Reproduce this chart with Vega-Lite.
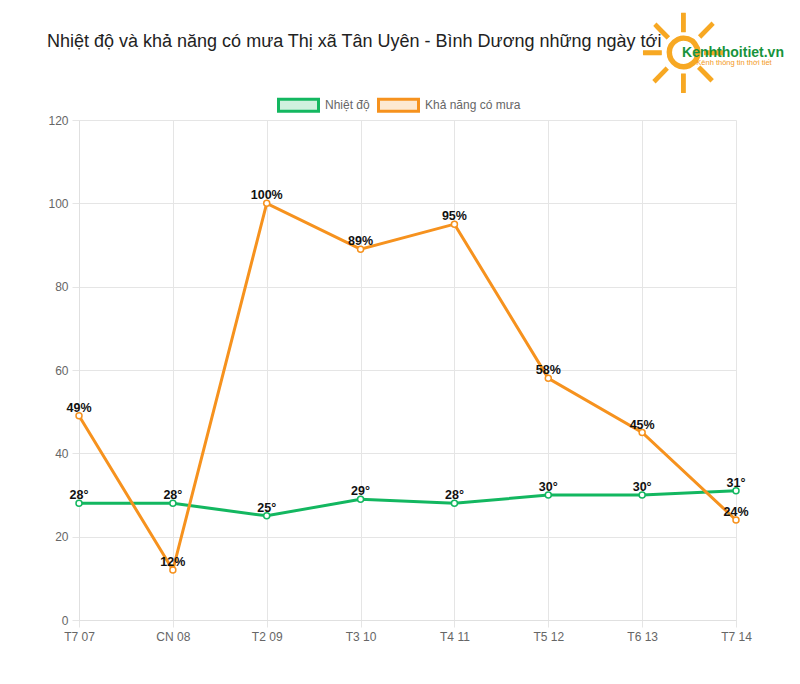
{
  "$schema": "https://vega.github.io/schema/vega-lite/v6.json",
  "width": 657,
  "height": 500,
  "autosize": {"type": "none"},
  "padding": {"left": 79, "top": 120, "right": 64, "bottom": 64},
  "background": "white",
  "title": {
    "text": "Nhiệt độ và khả năng có mưa Thị xã Tân Uyên - Bình Dương những ngày tới",
    "anchor": "start",
    "frame": "group",
    "dx": -32,
    "offset": -60,
    "baseline": "alphabetic",
    "fontSize": 18,
    "font": "Liberation Sans",
    "fontWeight": "normal",
    "color": "#222222"
  },
  "config": {
    "view": {"stroke": null},
    "font": "Liberation Sans",
    "axis": {
      "labelColor": "#666666",
      "labelFontSize": 12,
      "labelFont": "Liberation Sans",
      "gridColor": "#e5e5e5",
      "tickColor": "#e5e5e5",
      "domainColor": "#e0e0e0",
      "tickSize": 7,
      "title": null
    }
  },
  "datasets": {
    "weather": [
      {"day": "T7 07", "series": "Nhiệt độ", "value": 28, "label": "28°"},
      {"day": "CN 08", "series": "Nhiệt độ", "value": 28, "label": "28°"},
      {"day": "T2 09", "series": "Nhiệt độ", "value": 25, "label": "25°"},
      {"day": "T3 10", "series": "Nhiệt độ", "value": 29, "label": "29°"},
      {"day": "T4 11", "series": "Nhiệt độ", "value": 28, "label": "28°"},
      {"day": "T5 12", "series": "Nhiệt độ", "value": 30, "label": "30°"},
      {"day": "T6 13", "series": "Nhiệt độ", "value": 30, "label": "30°"},
      {"day": "T7 14", "series": "Nhiệt độ", "value": 31, "label": "31°"},
      {"day": "T7 07", "series": "Khả năng có mưa", "value": 49, "label": "49%"},
      {"day": "CN 08", "series": "Khả năng có mưa", "value": 12, "label": "12%"},
      {"day": "T2 09", "series": "Khả năng có mưa", "value": 100, "label": "100%"},
      {"day": "T3 10", "series": "Khả năng có mưa", "value": 89, "label": "89%"},
      {"day": "T4 11", "series": "Khả năng có mưa", "value": 95, "label": "95%"},
      {"day": "T5 12", "series": "Khả năng có mưa", "value": 58, "label": "58%"},
      {"day": "T6 13", "series": "Khả năng có mưa", "value": 45, "label": "45%"},
      {"day": "T7 14", "series": "Khả năng có mưa", "value": 24, "label": "24%"}
    ],
    "sun": [
      {"day": "T7 14", "value": 134.3, "text": "☼"}
    ],
    "brand": [
      {"day": "T7 14", "value": 136.1, "text": "Kenhthoitiet.vn"}
    ],
    "tagline": [
      {"day": "T7 14", "value": 133.7, "text": "Kênh thông tin thời tiết"}
    ]
  },
  "encoding": {
    "x": {
      "field": "day", "type": "ordinal", "sort": null,
      "scale": {"type": "point", "padding": 0},
      "axis": {"labelAngle": 0, "grid": true, "labelPadding": 4, "orient": "bottom"}
    },
    "y": {
      "field": "value", "type": "quantitative",
      "scale": {"domain": [0, 120], "nice": false},
      "axis": {"values": [0, 20, 40, 60, 80, 100, 120], "grid": true, "labelPadding": 4}
    }
  },
  "layer": [
    {
      "data": {"name": "weather"},
      "mark": {"type": "line", "strokeWidth": 3, "interpolate": "linear"},
      "encoding": {
        "color": {
          "field": "series", "type": "nominal",
          "scale": {"domain": ["Nhiệt độ", "Khả năng có mưa"], "range": ["#13b760", "#f6921e"]},
          "legend": {
            "orient": "none",
            "direction": "horizontal",
            "legendX": 198,
            "legendY": -36.5,
            "title": null,
            "symbolType": "M-1,-0.3H1V0.3H-1Z",
            "symbolSize": 1600,
            "symbolStrokeWidth": 3,
            "labelColor": "#666666",
            "labelFontSize": 12,
            "labelFont": "Liberation Sans",
            "labelOffset": 5,
            "columnPadding": 2,
            "encode": {
              "symbols": {
                "update": {
                  "fill": {"scale": "color", "field": "value"},
                  "fillOpacity": {"value": 0.2}
                }
              }
            }
          }
        }
      }
    },
    {
      "data": {"name": "weather"},
      "mark": {"type": "point", "filled": false, "fill": "white", "size": 36, "strokeWidth": 1.5, "opacity": 1},
      "encoding": {
        "color": {"field": "series", "type": "nominal"}
      }
    },
    {
      "data": {"name": "weather"},
      "mark": {"type": "text", "fontWeight": "bold", "fontSize": 12.5, "color": "#111111", "baseline": "alphabetic", "dy": -4, "font": "Liberation Sans"},
      "encoding": {
        "text": {"field": "label"}
      }
    },
    {
      "data": {"name": "sun"},
      "mark": {"type": "text", "clip": false, "baseline": "middle", "align": "center", "dx": -53, "font": "DejaVu Sans", "fontSize": 110, "color": "#f7a823"},
      "encoding": {
        "text": {"field": "text"}
      }
    },
    {
      "data": {"name": "brand"},
      "mark": {"type": "text", "clip": false, "baseline": "middle", "dx": -3, "font": "Liberation Sans", "fontWeight": "bold", "fontSize": 14, "color": "#17933c"},
      "encoding": {
        "text": {"field": "text"}
      }
    },
    {
      "data": {"name": "tagline"},
      "mark": {"type": "text", "clip": false, "baseline": "middle", "dx": -2, "font": "Liberation Sans", "fontSize": 7.5, "color": "#f39a1c"},
      "encoding": {
        "text": {"field": "text"}
      }
    }
  ]
}
